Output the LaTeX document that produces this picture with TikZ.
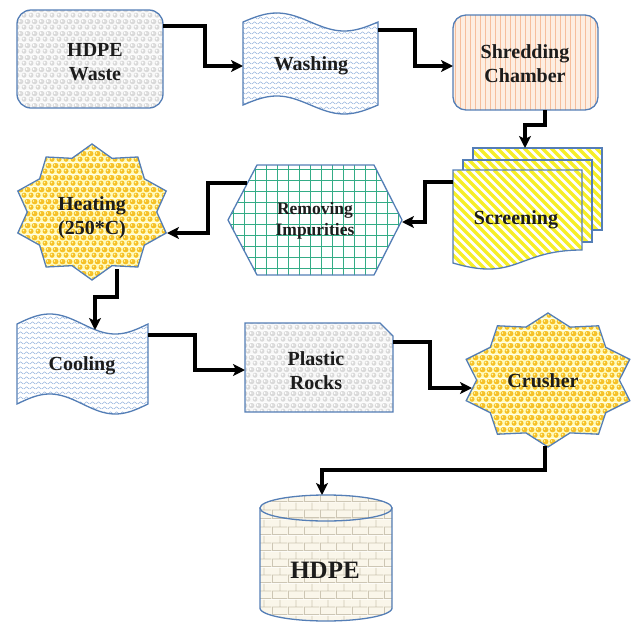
\documentclass[tikz,border=0pt]{standalone}
\usepackage{fontspec}
\setmainfont{Liberation Serif}
\usetikzlibrary{patterns.meta,arrows.meta}

\definecolor{outline}{RGB}{84,126,182}
\definecolor{ink}{RGB}{28,28,28}
\definecolor{peach}{RGB}{253,238,226}
\definecolor{peachline}{RGB}{246,190,156}
\definecolor{stripeyellow}{RGB}{246,238,40}
\definecolor{gridteal}{RGB}{52,172,134}
\definecolor{gold}{RGB}{246,192,38}

% ---------- dotted fill patterns ----------
\tikzdeclarepattern{
  name=greydots, type=colored,
  bottom left={(0pt,0pt)}, top right={(7pt,12pt)}, tile size={(7pt,12pt)},
  code={
    \fill[white!95!gray] (-0.2pt,-0.2pt) rectangle (7.2pt,12.2pt);
    \foreach \p in {(3.5pt,3pt),(0pt,9pt),(7pt,9pt)} {
      \fill[gray!30] \p circle (2.7pt);
      \fill[white] \p ++(-0.6pt,0.6pt) circle (1.2pt);
    }
  }
}
\tikzdeclarepattern{
  name=golddots, type=colored,
  bottom left={(0pt,0pt)}, top right={(7pt,12pt)}, tile size={(7pt,12pt)},
  code={
    \fill[yellow!25] (-0.2pt,-0.2pt) rectangle (7.2pt,12.2pt);
    \foreach \p in {(3.5pt,3pt),(0pt,9pt),(7pt,9pt)} {
      \fill[gold] \p circle (2.8pt);
      \fill[white!70!yellow] \p ++(-0.7pt,0.7pt) circle (1.0pt);
    }
  }
}
\tikzdeclarepattern{
  name=zigzag, type=colored,
  bottom left={(0pt,0pt)}, top right={(6pt,5pt)}, tile size={(6pt,5pt)},
  code={
    \fill[white] (-0.2pt,-0.2pt) rectangle (6.2pt,5.2pt);
    \draw[line width=0.6pt, color={rgb,255:red,150;green,180;blue,222}]
      (0pt,1.2pt) -- (3pt,3.8pt) -- (6pt,1.2pt);
  }
}
\tikzdeclarepattern{
  name=creambricks, type=colored,
  bottom left={(0pt,0pt)}, top right={(16pt,16pt)}, tile size={(16pt,16pt)},
  code={
    \fill[fill={rgb,255:red,250;green,246;blue,234}] (-0.2pt,-0.2pt) rectangle (16.2pt,16.2pt);
    \fill[fill={rgb,255:red,205;green,198;blue,180}]
      (0pt,0pt) rectangle (16pt,0.8pt)
      (0pt,8pt) rectangle (16pt,8.8pt)
      (0pt,0pt) rectangle (0.8pt,8pt)
      (8pt,8pt) rectangle (8.8pt,16pt);
  }
}

% ---------- reusable outlines ----------
% wavy band: style, left x, width, top mid-line, bottom mid-line, amplitude
\newcommand\wavyband[6]{%
  \path[#1] plot[domain=0:1,samples=60] ({#2+\x*#3},{#4-#6*sin(360*\x)})
    -- plot[domain=1:0,samples=60] ({#2+\x*#3},{#5-#6*sin(360*\x)}) -- cycle;}
% ten-point seal: style, centre x, centre y, x radius, y radius
\newcommand\sealshape[5]{%
  \path[#1] plot[samples at={0,18,...,342}]
    ({#2+#4*(mod(\x,36)==0?1:0.83)*cos(\x+90)},{#3-#5*(mod(\x,36)==0?1:0.83)*sin(\x+90)})
    -- cycle;}

\begin{document}
\begin{tikzpicture}[x=1pt,y=-1pt,
  shapeline/.style={draw=outline, line width=1.3pt},
  label/.style={text=ink, font=\bfseries\fontsize{20}{24}\selectfont, align=center, inner sep=0pt},
  flow/.style={line width=3.6pt, line join=miter, -{Stealth[length=12pt,width=12pt,inset=3pt]}}]
\useasboundingbox (0,0) rectangle (638,630);

% ---- HDPE waste and washing ----
\path[shapeline, pattern=greydots, rounded corners=14pt] (17,10) rectangle (163,108);
\wavyband{shapeline, pattern=zigzag}{243}{135}{22}{105}{9}

% ---- shredding chamber: peach with vertical stripes ----
\begin{scope}
  \clip[rounded corners=13pt] (453,15) rectangle (598,110);
  \fill[peach] (453,15) rectangle (598,110);
  \foreach \k in {455.5,460.5,...,598} \draw[peachline, line width=1.1pt] (\k,12) -- (\k,113);
\end{scope}
\draw[shapeline, rounded corners=13pt] (453,15) rectangle (598,110);

% ---- stacked screening sheets: white with yellow diagonal stripes ----
\foreach \sx/\sy/\ex/\ey in {473/148/602/230, 463/160/592/242} {
  \begin{scope}
    \clip (\sx,\sy) rectangle (\ex,\ey);
    \fill[white] (\sx,\sy) rectangle (\ex,\ey);
    \foreach \k in {-120,-111,...,140}
      \draw[stripeyellow, line width=3.4pt] (\sx+\k,\sy) -- ++(100,100);
  \end{scope}
  \draw[shapeline] (\sx,\sy) rectangle (\ex,\ey);
}
\begin{scope}
  \clip (453,170) -- (582,170) -- (582,250)
    .. controls (517,250) and (517,282) .. (453,263) -- cycle;
  \fill[white] (450,168) rectangle (585,285);
  \foreach \k in {-130,-121,...,140}
    \draw[stripeyellow, line width=3.4pt] (453+\k,170) -- ++(115,115);
\end{scope}
\draw[shapeline] (453,170) -- (582,170) -- (582,250)
  .. controls (517,250) and (517,282) .. (453,263) -- cycle;

% ---- removing impurities: white hexagon with teal grid ----
\begin{scope}
  \clip (228,220) -- (257,165) -- (374,165) -- (402,220) -- (374,275) -- (257,275) -- cycle;
  \fill[white] (226,163) rectangle (404,277);
  \foreach \k in {233,244,...,402} \draw[gridteal, line width=0.9pt] (\k,163) -- (\k,277);
  \foreach \k in {169,180,...,277} \draw[gridteal, line width=0.9pt] (226,\k) -- (404,\k);
\end{scope}
\draw[shapeline] (228,220) -- (257,165) -- (374,165) -- (402,220) -- (374,275) -- (257,275) -- cycle;

% ---- heating, cooling, plastic rocks, crusher ----
\sealshape{shapeline, pattern=golddots}{92}{212}{78}{68}
\wavyband{shapeline, pattern=zigzag}{17}{131}{324}{404}{10}
\path[shapeline, pattern=greydots] (245,323) -- (380,323) -- (393,336) -- (393,412)
  -- (245,412) -- cycle;
\sealshape{shapeline, pattern=golddots}{548}{380}{86}{67}

% ---- storage drum ----
\path[shapeline, pattern=creambricks] (260,508) -- (260,608)
  -- plot[domain=0:180,samples=40] ({326-66*cos(\x)},{608+13*sin(\x)}) -- (392,508) -- cycle;
\path[shapeline, pattern=creambricks] (326,508) ellipse [x radius=66, y radius=13];

% ---- labels ----
\node[label] (hw) at (95,62) {HDPE\\Waste};
\node[label] (wa) at (311,66) {Washing};
\node[label] (sc) at (525,64) {Shredding\\Chamber};
\node[label] (sr) at (516,220) {Screening};
\node[label, font=\bfseries\fontsize{17.5}{21}\selectfont] (ri) at (315,221) {Removing\\Impurities};
\node[label] (ht) at (92,218) {Heating\\(250*C)};
\node[label] (co) at (82,366) {Cooling};
\node[label] (pr) at (316,371) {Plastic\\Rocks};
\node[label] (cr) at (543,381) {Crusher};
\node[label, font=\bfseries\fontsize{25}{30}\selectfont] (hd) at (325,570) {HDPE};

% ---- connector ends on the shape outlines ----
\coordinate (hw-out) at (163,26);
\coordinate (wa-in)  at (243,66);
\coordinate (wa-out) at (378,30);
\coordinate (sc-in)  at (453,66);
\coordinate (sc-out) at (545,110);
\coordinate (sr-in)  at (525,148);
\coordinate (sr-out) at (453,182);
\coordinate (ri-in)  at (402,222);
\coordinate (ri-out) at (247,183);
\coordinate (ht-in)  at (167,233);
\coordinate (ht-out) at (117,269);
\coordinate (co-in)  at (95,330);
\coordinate (co-out) at (148,335);
\coordinate (pr-in)  at (245,370);
\coordinate (pr-out) at (393,342);
\coordinate (cr-in)  at (472,388);
\coordinate (cr-out) at (545,446);
\coordinate (hd-in)  at (322,495);

% ---- flow connectors ----
\draw[flow] (hw-out) -- ++(42,0) |- (wa-in);
\draw[flow] (wa-out) -- ++(37,0) |- (sc-in);
\draw[flow] (sc-out) -- ++(0,15) -| (sr-in);
\draw[flow] (sr-out) -- ++(-28,0) |- (ri-in);
\draw[flow] (ri-out) -- ++(-39,0) |- (ht-in);
\draw[flow] (ht-out) -- ++(0,28) -| (co-in);
\draw[flow] (co-out) -- ++(47,0) |- (pr-in);
\draw[flow] (pr-out) -- ++(37,0) |- (cr-in);
\draw[flow] (cr-out) -- ++(0,24) -| (hd-in);
\end{tikzpicture}
\end{document}
